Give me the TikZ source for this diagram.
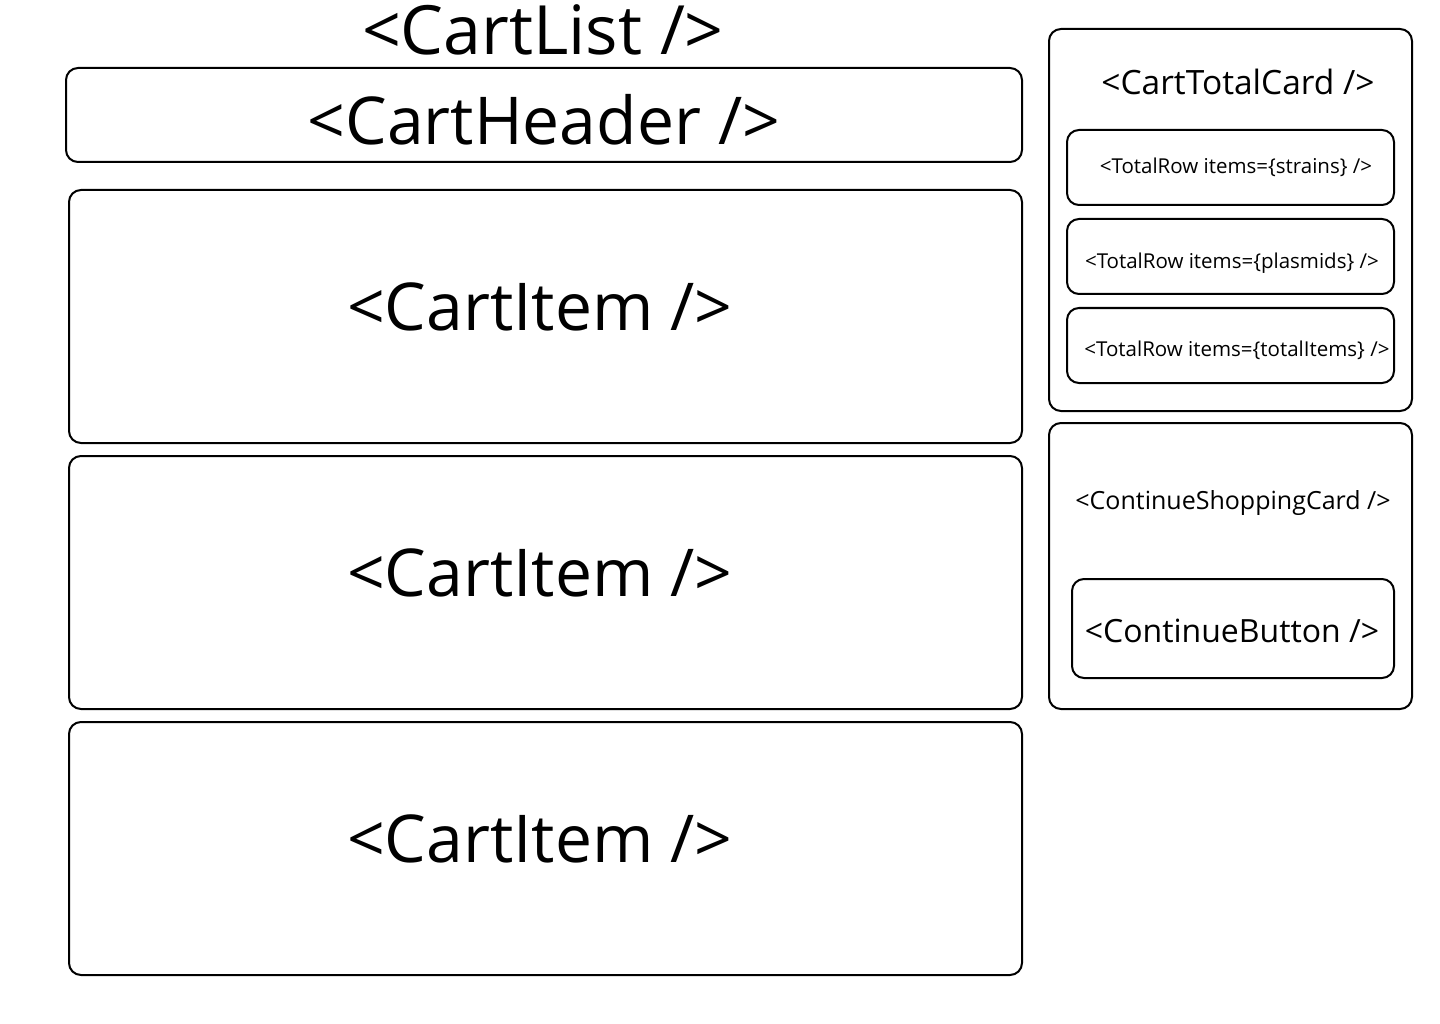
\documentclass[tikz,border=0pt]{standalone}
\usepackage{fontspec}
\setmainfont{Open Sans}
\usetikzlibrary{positioning}
\tikzset{
  card/.style = {draw, line width = 2pt, rounded corners = 12pt, inner sep = 0pt},
  label/.style = {inner sep = 0pt, anchor = center}
}
\begin{document}
\begin{tikzpicture}[x = 1pt, y = -1pt]
\useasboundingbox (0,0) rectangle (1440,1024);
% left column
\node [label, font = \fontsize{68}{68}\selectfont] (cartlist) at (543,30) {<CartList />};
\node [card, minimum width = 956pt, minimum height = 94pt] (header) at (544,115) {};
\node [label, font = \fontsize{66}{66}\selectfont] at (544,120) {<CartHeader />};
\node [card, minimum width = 953pt, minimum height = 253pt] (item1) at (545.5,316.5) {};
\node [card, minimum width = 953pt, minimum height = 253pt] (item2) at (545.5,582.5) {};
\node [card, minimum width = 953pt, minimum height = 253pt] (item3) at (545.5,848.5) {};
\node [label, font = \fontsize{66}{66}\selectfont] at (540,307) {<CartItem />};
\node [label, font = \fontsize{66}{66}\selectfont] at (540,573) {<CartItem />};
\node [label, font = \fontsize{66}{66}\selectfont] at (540,839) {<CartItem />};
% right column
\node [card, minimum width = 363pt, minimum height = 382pt] (total) at (1230.5,220) {};
\node [label, font = \fontsize{33.5}{33.5}\selectfont] at (1238,82) {<CartTotalCard />};
\node [card, minimum width = 327pt, minimum height = 75pt] (row1) at (1230.5,167.5) {};
\node [card, minimum width = 327pt, minimum height = 75pt] (row2) at (1230.5,256.5) {};
\node [card, minimum width = 327pt, minimum height = 75pt] (row3) at (1230.5,345.5) {};
\node [label, font = \fontsize{20.5}{20.5}\selectfont] at (1236,167) {<TotalRow items=\{strains\} />};
\node [label, font = \fontsize{20.5}{20.5}\selectfont] at (1232,263) {<TotalRow items=\{plasmids\} />};
\node [label, font = \fontsize{20.5}{20.5}\selectfont] at (1237,350) {<TotalRow items=\{totalItems\} />};
\node [card, minimum width = 363pt, minimum height = 286pt] (shopping) at (1230.5,566) {};
\node [label, font = \fontsize{25}{25}\selectfont] at (1233,503) {<ContinueShoppingCard />};
\node [card, minimum width = 322pt, minimum height = 99pt] (button) at (1233,628.5) {};
\node [label, font = \fontsize{32}{32}\selectfont] at (1232,631) {<ContinueButton />};
\end{tikzpicture}
\end{document}
